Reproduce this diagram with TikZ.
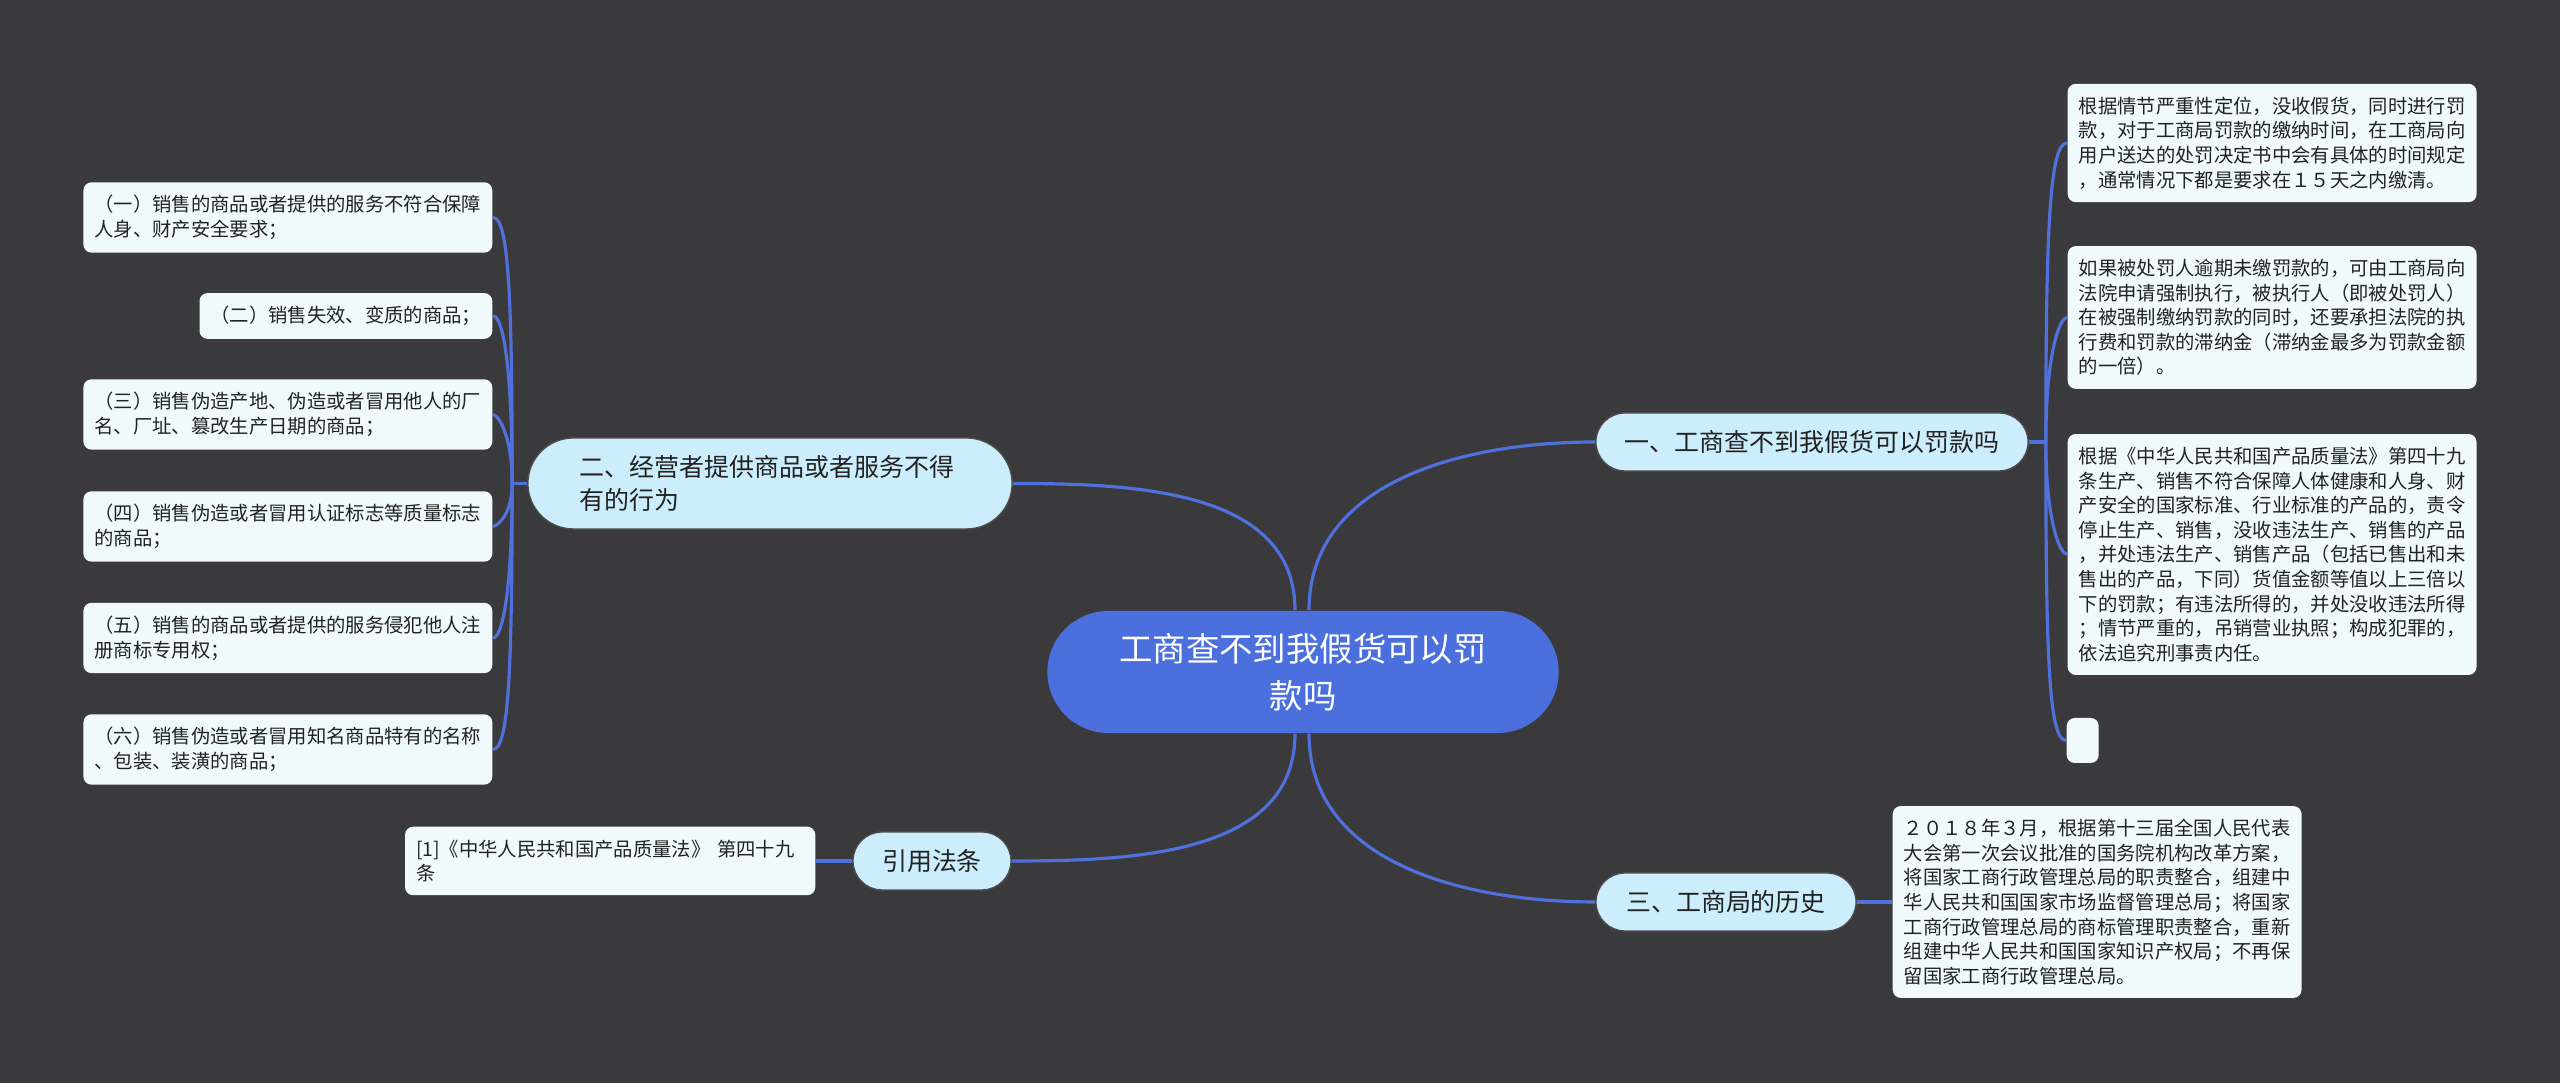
\documentclass[tikz,border=0pt]{standalone}
\usepackage{fontspec}
\newfontfamily\cjk{Noto Sans CJK SC}
\usepackage{tikz}
\usetikzlibrary{positioning,shapes.misc,backgrounds}
\definecolor{BoardGray}{RGB}{58,58,60}
\definecolor{HubBlue}{RGB}{76,111,222}
\definecolor{WireBlue}{RGB}{80,112,220}
\definecolor{TopicSky}{RGB}{204,238,252}
\definecolor{MemoWhite}{RGB}{240,250,253}
\definecolor{InkDark}{RGB}{34,34,34}
\tikzset{
  hub/.style={rounded rectangle,fill=HubBlue,text=white,font=\cjk\fontsize{9.5}{13.3}\selectfont,align=center,minimum width=5.11cm,minimum height=1.22cm,inner sep=0pt},
  topic/.style={rounded rectangle,draw=black!70,line width=0.4pt,fill=TopicSky,text=InkDark,font=\cjk\fontsize{7.1}{9.4}\selectfont,minimum height=0.58cm,inner sep=0pt},
  memo/.style={rectangle,rounded corners=0.08cm,fill=MemoWhite,text=InkDark,font=\cjk\fontsize{5.5}{7}\selectfont,align=left,inner xsep=0.11cm,inner ysep=0.13cm},
  wire/.style={draw=WireBlue,line width=0.9pt}
}

\begin{document}
\begin{tikzpicture}[x=0.01cm,y=0.01cm]
\begin{scope}[on background layer]
\fill[BoardGray] (0,0) rectangle (2560,1083);
\end{scope}

% centre and main topics
\node[hub] (hub) at (1303,411) {工商查不到我假货可以罚\\款吗};
\node[topic,minimum width=4.32cm] (t1) at (1812,641) {一、工商查不到我假货可以罚款吗};
\node[topic,minimum width=4.84cm,minimum height=0.91cm,text width=3.8cm,align=left] (t2) at (770,599.5) {二、经营者提供商品或者服务不得\\有的行为};
\node[topic,minimum width=2.6cm] (t3) at (1726,181) {三、工商局的历史};
\node[topic,minimum width=1.58cm] (t4) at (932,222) {引用法条};

% right side notes
\node[memo,anchor=west] (r1) at (2067,940) {根据情节严重性定位，没收假货，同时进行罚\\款，对于工商局罚款的缴纳时间，在工商局向\\用户送达的处罚决定书中会有具体的时间规定\\，通常情况下都是要求在１５天之内缴清。};
\node[memo,anchor=west] (r2) at (2067,765.5) {如果被处罚人逾期未缴罚款的，可由工商局向\\法院申请强制执行，被执行人（即被处罚人）\\在被强制缴纳罚款的同时，还要承担法院的执\\行费和罚款的滞纳金（滞纳金最多为罚款金额\\的一倍）。};
\node[memo,anchor=west] (r3) at (2067,528.5) {根据《中华人民共和国产品质量法》第四十九\\条生产、销售不符合保障人体健康和人身、财\\产安全的国家标准、行业标准的产品的，责令\\停止生产、销售，没收违法生产、销售的产品\\，并处违法生产、销售产品（包括已售出和未\\售出的产品，下同）货值金额等值以上三倍以\\下的罚款；有违法所得的，并处没收违法所得\\；情节严重的，吊销营业执照；构成犯罪的，\\依法追究刑事责内任。};
\node[memo,anchor=west,minimum width=0.32cm,minimum height=0.45cm,inner sep=0pt] (r4) at (2066,342.5) {};
\node[memo,anchor=west] (r5) at (1892,181) {２０１８年３月，根据第十三届全国人民代表\\大会第一次会议批准的国务院机构改革方案，\\将国家工商行政管理总局的职责整合，组建中\\华人民共和国国家市场监督管理总局；将国家\\工商行政管理总局的商标管理职责整合，重新\\组建中华人民共和国国家知识产权局；不再保\\留国家工商行政管理总局。};

% left side notes
\node[memo,anchor=east] (l1) at (493,865.5) {（一）销售的商品或者提供的服务不符合保障\\人身、财产安全要求；};
\node[memo,anchor=east] (l2) at (493,767) {（二）销售失效、变质的商品；};
\node[memo,anchor=east] (l3) at (493,668.5) {（三）销售伪造产地、伪造或者冒用他人的厂\\名、厂址、篡改生产日期的商品；};
\node[memo,anchor=east] (l4) at (493,556.5) {（四）销售伪造或者冒用认证标志等质量标志\\的商品；};
\node[memo,anchor=east] (l5) at (493,445) {（五）销售的商品或者提供的服务侵犯他人注\\册商标专用权；};
\node[memo,anchor=east] (l6) at (493,333.5) {（六）销售伪造或者冒用知名商品特有的名称\\、包装、装潢的商品；};
\node[memo,anchor=east,text width=3.88cm] (cite) at (816,222) {[1]《中华人民共和国产品质量法》 第四十九\\条};

\coordinate[right=0.17cm of t1.east] (j1);
\coordinate[left=0.15cm of t2.west] (j2);

\begin{scope}[on background layer]
\draw[wire] ([xshift=0.06cm]hub.north) to[out=90,in=180] (t1.west);
\draw[wire] ([xshift=-0.08cm]hub.north) to[out=90,in=0] (t2.east);
\draw[wire] ([xshift=0.06cm]hub.south) to[out=-90,in=180] (t3.west);
\draw[wire] ([xshift=-0.08cm]hub.south) to[out=-90,in=0] (t4.east);
\draw[wire] (t1.east) -- (j1);
\draw[wire] (t2.west) -- (j2);
\draw[wire] (t3.east) -- (r5.west);
\draw[wire] (t4.west) -- (cite.east);
\foreach \n in {r1,r2}
  \draw[wire] (j1) to[out=90,in=180,out looseness=1.8,in looseness=0.15] (\n.west);
\foreach \n in {r3,r4}
  \draw[wire] (j1) to[out=-90,in=180,out looseness=1.8,in looseness=0.15] (\n.west);
\foreach \n in {l1,l2,l3}
  \draw[wire] (j2) to[out=90,in=0,out looseness=1.8,in looseness=0.15] (\n.east);
\foreach \n in {l4,l5,l6}
  \draw[wire] (j2) to[out=-90,in=0,out looseness=1.8,in looseness=0.15] (\n.east);
\end{scope}
\end{tikzpicture}
\end{document}
